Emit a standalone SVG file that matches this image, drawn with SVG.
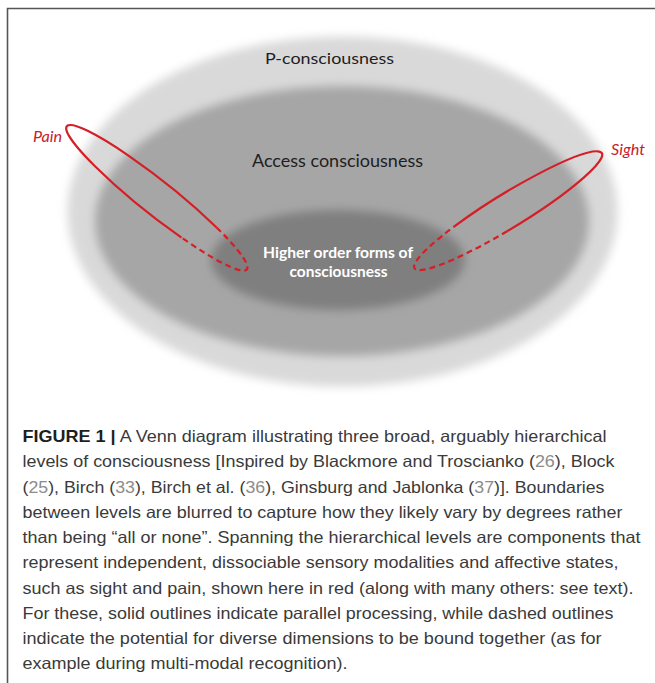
<svg xmlns="http://www.w3.org/2000/svg" width="655" height="683" viewBox="0 0 655 683">
<defs>
<filter id="soft" x="-15%" y="-15%" width="130%" height="130%">
<feGaussianBlur stdDeviation="5"/>
</filter>
<style>
.frame{stroke:#555;stroke-width:1.6;fill:none}
.lvl{filter:url(#soft)}
.lbl{font-family:Lato,"Liberation Sans",sans-serif;fill:#1e1e1e}
.lblw{font-family:Lato,"Liberation Sans",sans-serif;font-weight:bold;fill:#ffffff}
.mod{fill:none;stroke:#d41f26;stroke-width:2.2}
.dash{stroke-dasharray:6 4}
.red{font-family:Lato,"Liberation Sans",sans-serif;font-style:italic;fill:#c8202a}
.cap{font-family:"Liberation Sans",Arial,sans-serif;font-size:16.5px;fill:#3a3a3a}
.b{font-weight:bold;fill:#1e1e1e}
.ref{fill:#8c8c8c}
</style>
</defs>
<rect x="0" y="0" width="655" height="683" fill="#ffffff"/>
<path class="frame" d="M7.5 683 V8.5 H655"/>

<g id="p-consciousness">
<ellipse class="lvl" cx="342.5" cy="211.5" rx="275" ry="175" fill="#d9d9d9"/>
<text class="lbl" x="265" y="64" font-size="16" textLength="129" lengthAdjust="spacingAndGlyphs">P-consciousness</text>
</g>
<g id="access-consciousness">
<ellipse class="lvl" cx="342" cy="221" rx="247" ry="135" fill="#a6a6a6"/>
<text class="lbl" x="252" y="167" font-size="17" textLength="171" lengthAdjust="spacingAndGlyphs">Access consciousness</text>
</g>
<g id="higher-order">
<ellipse class="lvl" cx="338" cy="260" rx="127" ry="50" fill="#7f7f7f"/>
<text class="lblw" x="263" y="257.5" font-size="15" textLength="150" lengthAdjust="spacingAndGlyphs">Higher order forms of</text>
<text class="lblw" x="289.5" y="276.5" font-size="15" textLength="98" lengthAdjust="spacingAndGlyphs">consciousness</text>
</g>

<g id="pain">
<g transform="translate(157 198) rotate(38.5)">
<path class="mod" d="M43.8 15.7 A115 17 0 1 1 65 -14"/>
<path class="mod dash" d="M65 -14 A115 17 0 0 1 43.8 15.7"/>
</g>
<text class="red" x="33" y="142" font-size="14.5" textLength="29" lengthAdjust="spacingAndGlyphs">Pain</text>
</g>
<g id="sight">
<g transform="translate(508.5 210.5) rotate(-31.6)">
<path class="mod" d="M-55.7 -14.7 A110 17 0 1 1 -12 16.9"/>
<path class="mod dash" d="M-12 16.9 A110 17 0 0 1 -55.7 -14.7"/>
</g>
<text class="red" x="611" y="155" font-size="14.5" textLength="34" lengthAdjust="spacingAndGlyphs">Sight</text>
</g>

<g id="caption">
<text class="cap" x="22.5" y="442" textLength="584" lengthAdjust="spacingAndGlyphs"><tspan class="b">FIGURE 1 |</tspan> A Venn diagram illustrating three broad, arguably hierarchical</text>
<text class="cap" x="22.5" y="467.3" textLength="592" lengthAdjust="spacingAndGlyphs">levels of consciousness [Inspired by Blackmore and Troscianko (<tspan class="ref">26</tspan>), Block</text>
<text class="cap" x="22.5" y="492.5" textLength="582" lengthAdjust="spacingAndGlyphs">(<tspan class="ref">25</tspan>), Birch (<tspan class="ref">33</tspan>), Birch et al. (<tspan class="ref">36</tspan>), Ginsburg and Jablonka (<tspan class="ref">37</tspan>)]. Boundaries</text>
<text class="cap" x="22.5" y="517.8" textLength="600" lengthAdjust="spacingAndGlyphs">between levels are blurred to capture how they likely vary by degrees rather</text>
<text class="cap" x="22.5" y="543" textLength="618" lengthAdjust="spacingAndGlyphs">than being “all or none”. Spanning the hierarchical levels are components that</text>
<text class="cap" x="22.5" y="568.3" textLength="596" lengthAdjust="spacingAndGlyphs">represent independent, dissociable sensory modalities and affective states,</text>
<text class="cap" x="22.5" y="593.6" textLength="611" lengthAdjust="spacingAndGlyphs">such as sight and pain, shown here in red (along with many others: see text).</text>
<text class="cap" x="22.5" y="618.8" textLength="591" lengthAdjust="spacingAndGlyphs">For these, solid outlines indicate parallel processing, while dashed outlines</text>
<text class="cap" x="22.5" y="644" textLength="579" lengthAdjust="spacingAndGlyphs">indicate the potential for diverse dimensions to be bound together (as for</text>
<text class="cap" x="22.5" y="669.3" textLength="325" lengthAdjust="spacingAndGlyphs">example during multi-modal recognition).</text>
</g>
</svg>
